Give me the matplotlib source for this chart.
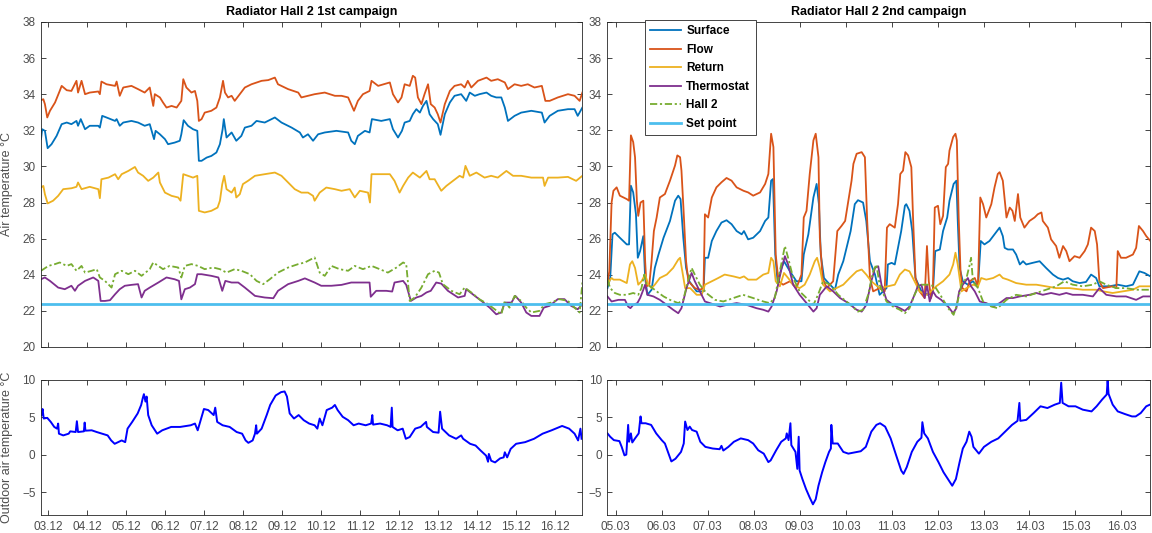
import matplotlib
matplotlib.use("Agg")
import matplotlib.pyplot as plt
import numpy as np

plt.rcParams['font.family'] = ['Liberation Sans', 'DejaVu Sans']

# ---- data: (day offset from first tick, value) ----
c1_days = ["03.12", "04.12", "05.12", "06.12", "07.12", "08.12", "09.12",
           "10.12", "11.12", "12.12", "13.12", "14.12", "15.12", "16.12"]
c2_days = ["05.03", "06.03", "07.03", "08.03", "09.03", "10.03", "11.03",
           "12.03", "13.03", "14.03", "15.03", "16.03"]

setpoint = 22.4

c1_surface = [(-0.19, 31.51), (-0.16, 32.06), (-0.09, 31.97), (-0.02, 31.01), (0.08, 31.23), (0.21, 31.69),
              (0.34, 32.34), (0.47, 32.43), (0.59, 32.34), (0.72, 32.52), (0.76, 32.25), (0.83, 32.62),
              (0.94, 32.06), (1.06, 32.25), (1.28, 32.25), (1.32, 32.15), (1.38, 32.80), (1.49, 32.71),
              (1.71, 32.52), (1.75, 32.62), (1.83, 32.25), (1.92, 32.43), (2.13, 32.52), (2.30, 32.43),
              (2.47, 32.25), (2.60, 32.34), (2.71, 31.51), (2.75, 31.97), (2.86, 31.78), (2.99, 31.51),
              (3.07, 31.23), (3.24, 31.32), (3.37, 31.42), (3.41, 31.78), (3.47, 32.56), (3.58, 32.25),
              (3.71, 32.06), (3.82, 31.97), (3.86, 30.31), (3.93, 30.31), (4.06, 30.49), (4.18, 30.58),
              (4.31, 30.77), (4.40, 31.23), (4.47, 32.06), (4.50, 32.62), (4.57, 31.60), (4.70, 31.88),
              (4.82, 31.42), (4.95, 31.69), (5.04, 32.15), (5.21, 32.25), (5.34, 32.52), (5.55, 32.43),
              (5.81, 32.71), (5.98, 32.43), (6.24, 32.15), (6.45, 31.88), (6.53, 31.60), (6.66, 31.78),
              (6.79, 31.42), (6.92, 31.78), (7.09, 31.88), (7.39, 31.97), (7.69, 31.88), (7.77, 31.42),
              (7.86, 31.23), (7.94, 31.69), (8.12, 31.97), (8.24, 31.88), (8.30, 32.62), (8.54, 32.52),
              (8.76, 32.62), (8.84, 32.06), (8.97, 31.60), (9.07, 31.97), (9.14, 32.43), (9.27, 32.52),
              (9.35, 32.89), (9.44, 33.17), (9.53, 32.98), (9.61, 33.35), (9.70, 33.63), (9.78, 32.89),
              (9.87, 32.62), (9.99, 32.34), (10.06, 31.75), (10.17, 32.89), (10.30, 33.54), (10.42, 33.91),
              (10.59, 34.00), (10.72, 33.63), (10.81, 34.09), (10.94, 33.91), (11.06, 34.00), (11.24, 34.09),
              (11.36, 33.91), (11.49, 33.82), (11.62, 33.82), (11.71, 33.26), (11.79, 32.52), (11.96, 32.80),
              (12.13, 32.98), (12.39, 33.08), (12.66, 32.98), (12.73, 32.43), (12.86, 32.80), (13.07, 33.08),
              (13.33, 33.17), (13.50, 33.17), (13.58, 32.80), (13.70, 33.26)]

c1_flow = [(-0.19, 33.67), (-0.13, 33.72), (-0.09, 33.45), (-0.03, 32.71), (0.04, 33.08), (0.17, 33.54),
           (0.29, 34.18), (0.34, 34.46), (0.47, 34.22), (0.59, 34.18), (0.72, 34.74), (0.76, 34.09),
           (0.85, 34.74), (0.94, 34.00), (1.06, 34.09), (1.28, 34.15), (1.32, 34.00), (1.36, 34.70),
           (1.49, 34.55), (1.71, 34.46), (1.75, 34.70), (1.83, 33.91), (1.92, 34.37), (2.13, 34.46),
           (2.30, 34.28), (2.47, 34.09), (2.60, 34.37), (2.69, 33.35), (2.73, 34.00), (2.86, 33.82),
           (2.94, 33.54), (3.03, 33.26), (3.16, 33.35), (3.29, 33.26), (3.41, 33.63), (3.46, 34.83),
           (3.54, 34.37), (3.67, 34.09), (3.76, 34.18), (3.82, 33.63), (3.86, 32.52), (3.93, 32.62),
           (4.01, 32.98), (4.18, 33.08), (4.31, 33.26), (4.40, 33.82), (4.48, 34.74), (4.53, 34.09),
           (4.61, 33.82), (4.70, 33.91), (4.78, 33.63), (4.91, 34.00), (5.04, 34.37), (5.21, 34.55),
           (5.47, 34.74), (5.64, 34.78), (5.81, 34.92), (5.89, 34.55), (6.15, 34.28), (6.41, 34.09),
           (6.49, 33.82), (6.66, 33.91), (6.83, 34.00), (7.09, 34.09), (7.35, 33.91), (7.52, 33.91),
           (7.69, 33.82), (7.84, 33.08), (7.94, 33.63), (8.07, 34.00), (8.24, 34.18), (8.29, 34.74),
           (8.46, 34.46), (8.76, 34.65), (8.84, 34.00), (8.97, 33.54), (9.06, 33.82), (9.14, 34.55),
           (9.27, 34.46), (9.35, 35.02), (9.41, 34.92), (9.48, 33.82), (9.57, 33.45), (9.65, 34.00),
           (9.74, 34.55), (9.81, 33.45), (9.91, 33.26), (9.99, 32.89), (10.06, 32.43), (10.17, 33.45),
           (10.30, 34.18), (10.42, 34.46), (10.59, 34.55), (10.68, 34.37), (10.76, 34.74), (10.85, 34.37),
           (11.02, 34.74), (11.24, 34.92), (11.36, 34.74), (11.53, 34.83), (11.71, 34.65), (11.79, 34.28),
           (11.96, 34.55), (12.13, 34.46), (12.30, 34.55), (12.47, 34.37), (12.66, 34.46), (12.75, 33.63),
           (12.86, 33.63), (13.07, 33.82), (13.33, 34.00), (13.50, 33.91), (13.63, 33.63), (13.70, 34.09)]

c1_return = [(-0.19, 28.83), (-0.13, 28.92), (-0.09, 28.46), (-0.02, 27.95), (0.12, 28.10), (0.25, 28.37),
             (0.38, 28.74), (0.59, 28.79), (0.72, 28.87), (0.76, 29.11), (0.85, 28.74), (1.06, 28.87),
             (1.28, 28.74), (1.32, 28.24), (1.36, 29.29), (1.54, 29.38), (1.71, 29.57), (1.79, 29.29),
             (1.88, 29.57), (2.05, 29.75), (2.22, 29.97), (2.30, 29.66), (2.43, 29.48), (2.56, 29.20),
             (2.69, 29.38), (2.82, 29.66), (2.86, 29.11), (2.99, 28.55), (3.16, 28.37), (3.33, 28.28),
             (3.39, 28.10), (3.46, 29.57), (3.58, 29.48), (3.71, 29.38), (3.82, 29.48), (3.86, 27.54),
             (4.01, 27.45), (4.18, 27.54), (4.34, 27.72), (4.40, 28.10), (4.46, 29.02), (4.51, 29.48),
             (4.57, 28.74), (4.70, 28.55), (4.78, 28.83), (4.82, 28.28), (4.91, 28.46), (4.99, 29.02),
             (5.12, 29.20), (5.30, 29.48), (5.55, 29.57), (5.81, 29.66), (5.98, 29.48), (6.15, 29.11),
             (6.32, 28.74), (6.49, 28.55), (6.66, 28.55), (6.79, 28.37), (6.83, 28.10), (6.96, 28.55),
             (7.13, 28.83), (7.35, 28.74), (7.52, 28.65), (7.73, 28.74), (7.86, 28.28), (7.99, 28.65),
             (8.20, 28.55), (8.25, 28.00), (8.29, 29.57), (8.54, 29.57), (8.76, 29.57), (8.88, 29.20),
             (9.01, 28.55), (9.10, 28.92), (9.23, 29.38), (9.35, 29.66), (9.53, 29.38), (9.70, 29.75),
             (9.78, 29.29), (9.91, 29.29), (10.08, 28.65), (10.21, 28.92), (10.38, 29.20), (10.55, 29.48),
             (10.64, 29.38), (10.70, 30.03), (10.81, 29.48), (10.98, 29.66), (11.19, 29.38), (11.36, 29.48),
             (11.53, 29.38), (11.75, 29.75), (11.92, 29.48), (12.13, 29.48), (12.39, 29.38), (12.69, 29.38),
             (12.73, 28.92), (12.82, 29.38), (13.07, 29.38), (13.33, 29.42), (13.54, 29.20), (13.70, 29.48)]

c1_thermostat = [(-0.19, 23.75), (-0.09, 23.85), (0.04, 23.66), (0.25, 23.29), (0.42, 23.20), (0.59, 23.39),
                 (0.68, 23.11), (0.76, 23.39), (0.94, 23.66), (1.15, 23.85), (1.28, 23.66), (1.34, 22.55),
                 (1.45, 22.55), (1.58, 22.59), (1.71, 22.92), (1.83, 23.20), (1.96, 23.39), (2.13, 23.44),
                 (2.30, 23.48), (2.39, 22.74), (2.47, 23.11), (2.60, 23.29), (2.82, 23.57), (3.03, 23.85),
                 (3.24, 23.75), (3.35, 23.66), (3.41, 22.64), (3.50, 23.20), (3.63, 23.29), (3.76, 23.48),
                 (3.82, 24.03), (3.93, 24.03), (4.18, 23.94), (4.36, 23.85), (4.46, 23.11), (4.54, 23.66),
                 (4.70, 23.57), (4.87, 23.57), (5.04, 23.29), (5.30, 22.83), (5.55, 22.74), (5.77, 22.70),
                 (5.89, 23.11), (6.15, 23.48), (6.41, 23.66), (6.58, 23.80), (6.83, 23.57), (7.00, 23.39),
                 (7.26, 23.39), (7.52, 23.44), (7.77, 23.57), (7.99, 23.57), (8.24, 23.57), (8.27, 22.78),
                 (8.41, 23.11), (8.67, 23.11), (8.82, 23.07), (8.88, 23.57), (9.10, 23.66), (9.18, 23.44),
                 (9.30, 22.55), (9.44, 22.74), (9.57, 22.83), (9.70, 23.02), (9.81, 23.11), (9.95, 23.57),
                 (10.08, 23.51), (10.25, 23.11), (10.51, 22.74), (10.68, 22.83), (10.72, 23.20), (10.94, 22.83),
                 (11.11, 22.55), (11.32, 22.18), (11.49, 21.81), (11.62, 21.91), (11.71, 22.46), (11.88, 22.46),
                 (11.98, 22.83), (12.13, 22.46), (12.26, 21.91), (12.39, 21.72), (12.60, 21.72), (12.71, 22.18),
                 (12.86, 22.28), (13.07, 22.65), (13.24, 22.65), (13.41, 22.28), (13.58, 22.09), (13.70, 22.37)]

c1_hall2 = [(-0.19, 24.22), (0.00, 24.49), (0.17, 24.59), (0.29, 24.68), (0.47, 24.49), (0.59, 24.59),
            (0.72, 24.22), (0.85, 24.49), (0.94, 24.12), (1.11, 24.22), (1.24, 24.31), (1.32, 23.85),
            (1.45, 23.66), (1.62, 23.29), (1.71, 24.03), (1.88, 24.22), (2.05, 24.03), (2.22, 24.22),
            (2.39, 23.94), (2.60, 24.31), (2.69, 24.68), (2.82, 24.49), (2.94, 24.31), (3.11, 24.49),
            (3.33, 24.40), (3.41, 23.85), (3.50, 24.49), (3.67, 24.59), (3.84, 24.49), (4.01, 24.31),
            (4.23, 24.40), (4.40, 24.31), (4.57, 24.12), (4.78, 24.31), (4.95, 24.22), (5.17, 24.03),
            (5.34, 23.66), (5.51, 23.48), (5.68, 23.75), (5.89, 24.12), (6.15, 24.40), (6.41, 24.59),
            (6.58, 24.68), (6.83, 24.96), (6.96, 24.12), (7.09, 23.94), (7.26, 24.49), (7.47, 24.31),
            (7.69, 24.22), (7.86, 24.49), (8.07, 24.31), (8.29, 24.49), (8.50, 24.31), (8.71, 24.12),
            (8.93, 24.40), (9.10, 24.68), (9.18, 24.59), (9.27, 22.55), (9.40, 22.74), (9.57, 23.29),
            (9.74, 24.03), (9.91, 24.22), (10.02, 24.12), (10.12, 23.48), (10.34, 23.11), (10.55, 22.92),
            (10.68, 23.29), (10.85, 23.02), (11.06, 22.64), (11.28, 22.37), (11.45, 22.09), (11.62, 21.81),
            (11.71, 22.55), (11.83, 22.18), (11.96, 22.83), (12.13, 22.55), (12.26, 22.18), (12.39, 21.91),
            (12.60, 22.00), (12.73, 22.37), (12.90, 22.46), (13.11, 22.65), (13.33, 22.55), (13.50, 22.18),
            (13.63, 21.91), (13.70, 23.57)]

c2_surface = [(-0.18, 23.26), (-0.12, 23.82), (-0.07, 26.24), (-0.02, 26.33), (0.09, 26.05), (0.24, 25.68),
              (0.29, 25.68), (0.33, 28.93), (0.38, 28.56), (0.44, 27.35), (0.48, 24.94), (0.53, 25.31),
              (0.60, 26.14), (0.64, 23.82), (0.69, 22.89), (0.78, 23.17), (0.85, 24.38), (0.93, 25.12),
              (1.04, 26.05), (1.18, 26.98), (1.29, 28.10), (1.36, 28.38), (1.41, 28.19), (1.47, 26.05),
              (1.53, 24.38), (1.60, 23.64), (1.76, 23.08), (1.91, 23.08), (1.94, 24.94), (2.01, 24.94),
              (2.09, 25.87), (2.19, 26.42), (2.30, 26.89), (2.41, 27.02), (2.52, 26.80), (2.63, 26.42),
              (2.74, 26.24), (2.79, 26.42), (2.88, 25.96), (2.99, 26.05), (3.14, 26.42), (3.25, 26.98),
              (3.32, 27.17), (3.38, 29.21), (3.42, 29.30), (3.47, 25.12), (3.52, 23.64), (3.61, 24.38),
              (3.66, 24.75), (3.79, 24.19), (3.93, 23.64), (4.04, 23.64), (4.09, 25.12), (4.19, 26.24),
              (4.30, 28.28), (4.37, 29.03), (4.42, 27.91), (4.46, 25.12), (4.53, 23.82), (4.66, 23.45),
              (4.77, 23.17), (4.84, 24.01), (4.95, 24.75), (5.02, 25.49), (5.11, 26.42), (5.20, 27.91),
              (5.27, 28.13), (5.38, 28.00), (5.45, 26.98), (5.53, 24.75), (5.64, 24.01), (5.74, 22.89),
              (5.89, 23.26), (5.92, 24.57), (6.00, 24.66), (6.07, 24.57), (6.14, 25.49), (6.21, 26.42),
              (6.29, 27.82), (6.32, 27.91), (6.39, 27.54), (6.45, 26.42), (6.52, 23.82), (6.65, 23.08),
              (6.79, 22.89), (6.90, 23.08), (6.95, 25.31), (7.05, 25.40), (7.12, 26.42), (7.21, 27.17),
              (7.26, 28.10), (7.35, 29.03), (7.41, 29.21), (7.44, 26.98), (7.48, 24.38), (7.55, 23.64),
              (7.66, 23.45), (7.77, 23.64), (7.88, 23.36), (7.94, 25.87), (8.02, 25.68), (8.13, 25.87),
              (8.24, 26.24), (8.35, 26.61), (8.42, 26.14), (8.46, 25.49), (8.53, 25.40), (8.64, 25.40),
              (8.71, 25.12), (8.79, 24.57), (8.86, 24.75), (8.93, 24.57), (9.07, 24.66), (9.22, 24.75),
              (9.36, 24.38), (9.51, 24.01), (9.62, 23.82), (9.73, 23.73), (9.84, 23.82), (9.94, 23.64),
              (10.09, 23.54), (10.23, 23.60), (10.34, 24.01), (10.45, 23.82), (10.52, 23.36), (10.74, 23.36),
              (10.92, 23.45), (11.10, 23.36), (11.25, 23.45), (11.32, 23.82), (11.39, 24.19), (11.50, 24.10),
              (11.63, 23.91)]

c2_flow = [(-0.18, 23.54), (-0.14, 24.19), (-0.09, 28.00), (-0.05, 28.65), (0.02, 28.84), (0.09, 28.38),
           (0.24, 28.19), (0.29, 28.10), (0.33, 31.72), (0.38, 31.35), (0.42, 30.51), (0.46, 28.10),
           (0.49, 27.26), (0.54, 28.00), (0.60, 28.10), (0.64, 24.75), (0.67, 23.36), (0.73, 23.45),
           (0.78, 24.75), (0.83, 26.42), (0.89, 27.17), (0.96, 28.28), (1.07, 28.47), (1.18, 29.21),
           (1.29, 30.05), (1.34, 30.61), (1.40, 30.51), (1.43, 29.77), (1.48, 27.35), (1.53, 24.75),
           (1.58, 23.64), (1.72, 23.26), (1.83, 23.17), (1.91, 23.26), (1.94, 27.35), (2.01, 27.17),
           (2.09, 28.28), (2.19, 28.84), (2.30, 29.12), (2.41, 29.36), (2.52, 29.21), (2.63, 28.84),
           (2.78, 28.65), (2.88, 28.56), (2.99, 28.38), (3.14, 28.56), (3.25, 29.03), (3.32, 29.58),
           (3.38, 31.81), (3.43, 31.07), (3.48, 25.12), (3.54, 23.64), (3.64, 23.45), (3.79, 23.64),
           (3.93, 23.26), (4.04, 24.01), (4.09, 27.17), (4.15, 27.54), (4.22, 29.58), (4.30, 31.44),
           (4.35, 31.81), (4.41, 30.51), (4.44, 26.05), (4.50, 23.82), (4.59, 23.26), (4.73, 23.64),
           (4.82, 26.42), (4.91, 26.70), (4.99, 26.98), (5.06, 28.10), (5.13, 29.21), (5.17, 30.14),
           (5.24, 30.70), (5.35, 30.79), (5.42, 30.51), (5.47, 26.98), (5.53, 23.82), (5.60, 23.08),
           (5.74, 23.26), (5.85, 23.08), (5.90, 26.61), (5.96, 26.80), (6.07, 26.61), (6.14, 27.91),
           (6.19, 29.58), (6.25, 29.77), (6.30, 30.79), (6.36, 30.61), (6.43, 29.96), (6.47, 26.98),
           (6.52, 23.82), (6.61, 23.08), (6.72, 22.71), (6.77, 25.59), (6.81, 23.64), (6.86, 22.71),
           (6.90, 23.26), (6.94, 27.72), (7.01, 27.82), (7.06, 26.80), (7.12, 27.26), (7.18, 29.96),
           (7.23, 30.14), (7.26, 30.88), (7.34, 31.63), (7.39, 31.81), (7.42, 31.44), (7.46, 27.17),
           (7.50, 24.19), (7.54, 23.26), (7.63, 23.08), (7.70, 23.64), (7.81, 23.82), (7.88, 23.36),
           (7.93, 28.28), (7.99, 27.91), (8.06, 27.17), (8.17, 27.91), (8.24, 28.84), (8.31, 29.58),
           (8.35, 29.68), (8.42, 29.21), (8.50, 27.17), (8.57, 27.72), (8.63, 27.54), (8.68, 26.98),
           (8.75, 28.47), (8.80, 27.17), (8.89, 26.61), (9.00, 26.98), (9.11, 27.17), (9.18, 27.35),
           (9.26, 27.45), (9.29, 26.98), (9.40, 26.61), (9.47, 25.96), (9.58, 25.59), (9.65, 24.94),
           (9.73, 25.59), (9.80, 25.31), (9.87, 24.75), (9.98, 25.03), (10.09, 24.94), (10.20, 25.31),
           (10.27, 25.68), (10.34, 26.61), (10.42, 26.42), (10.47, 25.68), (10.52, 23.64), (10.60, 23.26),
           (10.81, 23.36), (10.89, 23.26), (10.92, 25.31), (10.99, 24.94), (11.10, 24.94), (11.25, 25.12),
           (11.32, 25.49), (11.38, 26.70), (11.47, 26.42), (11.54, 26.14), (11.63, 25.87)]

c2_return = [(-0.18, 23.45), (-0.12, 23.73), (-0.09, 23.82), (-0.05, 23.73), (0.09, 23.73), (0.24, 23.54),
             (0.31, 24.57), (0.36, 24.75), (0.42, 24.38), (0.49, 23.45), (0.56, 23.64), (0.64, 24.01),
             (0.71, 23.45), (0.78, 23.26), (0.85, 23.45), (0.96, 23.82), (1.11, 24.01), (1.25, 24.38),
             (1.36, 24.84), (1.40, 24.94), (1.43, 24.47), (1.51, 23.26), (1.62, 23.26), (1.76, 22.89),
             (1.87, 22.89), (1.94, 23.45), (2.09, 23.64), (2.23, 23.82), (2.37, 24.01), (2.56, 23.91),
             (2.70, 23.82), (2.79, 23.91), (2.88, 23.73), (3.06, 23.73), (3.21, 24.01), (3.32, 24.10),
             (3.38, 24.94), (3.43, 24.75), (3.48, 23.64), (3.57, 23.36), (3.66, 24.10), (3.75, 23.82),
             (3.86, 23.45), (4.00, 23.26), (4.11, 23.45), (4.22, 24.01), (4.33, 24.75), (4.38, 24.94),
             (4.44, 24.38), (4.51, 23.45), (4.66, 23.08), (4.80, 23.26), (4.95, 23.45), (5.09, 23.82),
             (5.24, 24.19), (5.35, 24.29), (5.45, 24.01), (5.56, 23.64), (5.74, 23.26), (5.92, 23.36),
             (6.07, 23.45), (6.18, 24.01), (6.29, 24.29), (6.39, 24.19), (6.50, 23.64), (6.61, 23.08),
             (6.76, 22.89), (6.86, 23.08), (6.97, 23.36), (7.12, 23.64), (7.26, 24.01), (7.34, 24.57),
             (7.39, 25.22), (7.44, 24.57), (7.52, 23.08), (7.63, 23.26), (7.77, 23.45), (7.88, 23.36),
             (7.95, 23.82), (8.06, 23.73), (8.21, 23.82), (8.35, 24.01), (8.42, 23.82), (8.53, 23.73),
             (8.71, 23.54), (8.93, 23.45), (9.15, 23.45), (9.36, 23.36), (9.58, 23.26), (9.87, 23.26),
             (10.16, 23.17), (10.45, 23.17), (10.60, 23.08), (10.81, 22.99), (11.03, 23.08), (11.25, 23.17),
             (11.39, 23.36), (11.63, 23.36)]

c2_thermostat = [(-0.18, 22.80), (-0.09, 22.52), (0.06, 22.61), (0.20, 22.61), (0.27, 22.24), (0.32, 22.15),
                 (0.38, 22.33), (0.47, 22.43), (0.53, 22.71), (0.60, 23.17), (0.64, 23.45), (0.69, 22.89),
                 (0.82, 22.80), (0.96, 22.61), (1.11, 22.33), (1.25, 22.06), (1.36, 21.87), (1.43, 22.15),
                 (1.54, 23.26), (1.65, 24.10), (1.72, 23.64), (1.83, 23.08), (1.94, 22.52), (2.12, 22.37),
                 (2.27, 22.24), (2.41, 22.33), (2.63, 22.43), (2.85, 22.33), (3.06, 22.15), (3.21, 22.06),
                 (3.32, 21.96), (3.39, 22.24), (3.50, 23.08), (3.61, 24.38), (3.68, 25.03), (3.75, 24.57),
                 (3.86, 23.45), (4.00, 22.89), (4.15, 22.43), (4.30, 21.96), (4.37, 22.15), (4.44, 22.89),
                 (4.59, 23.36), (4.73, 23.08), (4.88, 22.71), (5.06, 22.43), (5.24, 22.06), (5.35, 21.96),
                 (5.45, 22.33), (5.56, 23.64), (5.64, 24.38), (5.71, 24.47), (5.78, 23.45), (5.89, 22.61),
                 (6.03, 22.33), (6.18, 22.15), (6.29, 22.00), (6.39, 22.24), (6.50, 22.89), (6.57, 23.36),
                 (6.65, 23.45), (6.72, 22.71), (6.77, 23.45), (6.83, 22.52), (6.90, 23.08), (6.97, 22.80),
                 (7.08, 22.61), (7.23, 22.24), (7.34, 21.87), (7.41, 22.15), (7.47, 23.08), (7.55, 23.45),
                 (7.66, 23.82), (7.73, 23.36), (7.81, 23.08), (7.92, 22.52), (8.06, 22.43), (8.21, 22.24),
                 (8.35, 22.43), (8.50, 22.71), (8.64, 22.71), (8.79, 22.80), (9.00, 22.89), (9.15, 22.99),
                 (9.29, 22.89), (9.47, 22.99), (9.65, 22.89), (9.80, 22.99), (9.94, 22.89), (10.16, 22.89),
                 (10.38, 22.80), (10.52, 23.26), (10.67, 22.89), (10.89, 22.80), (11.10, 22.80), (11.32, 22.61),
                 (11.47, 22.80), (11.63, 22.80)]

c2_hall2 = [(-0.18, 23.73), (-0.12, 23.26), (-0.02, 22.99), (0.09, 22.89), (0.24, 22.89), (0.38, 22.99),
            (0.49, 22.89), (0.56, 23.26), (0.62, 24.01), (0.67, 23.45), (0.75, 23.36), (0.89, 23.08),
            (1.04, 22.80), (1.18, 22.61), (1.36, 22.43), (1.47, 22.61), (1.55, 23.45), (1.65, 24.38),
            (1.72, 24.01), (1.83, 23.45), (1.97, 22.99), (2.16, 22.61), (2.34, 22.52), (2.56, 22.71),
            (2.77, 22.89), (2.99, 22.71), (3.21, 22.52), (3.35, 22.43), (3.46, 22.71), (3.57, 24.19),
            (3.68, 25.59), (3.75, 24.94), (3.86, 23.82), (4.00, 23.08), (4.15, 22.71), (4.30, 22.33),
            (4.40, 22.89), (4.51, 23.64), (4.66, 23.45), (4.84, 22.89), (5.06, 22.43), (5.27, 21.96),
            (5.38, 22.06), (5.49, 22.89), (5.60, 24.19), (5.67, 24.57), (5.74, 23.45), (5.89, 22.52),
            (6.03, 22.24), (6.18, 22.06), (6.29, 21.87), (6.39, 22.15), (6.50, 22.89), (6.61, 23.45),
            (6.79, 23.45), (6.94, 23.36), (7.08, 22.80), (7.23, 22.15), (7.35, 21.78), (7.42, 22.33),
            (7.52, 23.45), (7.63, 23.82), (7.70, 24.57), (7.73, 24.94), (7.77, 23.64), (7.88, 23.26),
            (7.99, 22.52), (8.17, 22.24), (8.31, 22.15), (8.50, 22.61), (8.71, 22.89), (8.93, 22.80),
            (9.15, 22.99), (9.36, 23.17), (9.58, 23.36), (9.76, 23.64), (9.94, 23.45), (10.16, 23.36),
            (10.38, 23.45), (10.52, 23.64), (10.67, 23.45), (10.89, 23.26), (11.10, 23.26), (11.32, 23.17),
            (11.63, 23.17)]

c1_outdoor = [(-0.18, 5.32), (-0.15, 6.13), (-0.12, 4.86), (-0.03, 4.95), (0.06, 4.41), (0.15, 3.74),
              (0.22, 3.51), (0.25, 4.19), (0.27, 2.84), (0.38, 2.61), (0.52, 2.84), (0.56, 3.15),
              (0.70, 3.06), (0.73, 4.50), (0.76, 3.06), (0.91, 3.15), (0.93, 4.32), (0.95, 3.24),
              (1.11, 3.29), (1.24, 3.06), (1.38, 2.84), (1.52, 2.61), (1.61, 1.94), (1.70, 1.49),
              (1.79, 1.71), (1.88, 1.94), (1.97, 1.71), (2.03, 3.51), (2.15, 4.41), (2.29, 5.54),
              (2.38, 6.67), (2.42, 7.57), (2.45, 8.11), (2.49, 7.12), (2.52, 7.79), (2.56, 5.32),
              (2.65, 3.96), (2.79, 2.84), (2.92, 3.29), (3.15, 3.74), (3.38, 3.74), (3.65, 3.96),
              (3.76, 4.19), (3.83, 3.29), (3.92, 4.86), (3.99, 6.13), (4.10, 5.99), (4.24, 5.32),
              (4.28, 6.31), (4.33, 4.41), (4.47, 3.96), (4.65, 3.74), (4.83, 3.06), (4.97, 2.84),
              (5.06, 1.94), (5.13, 1.62), (5.24, 1.94), (5.30, 2.84), (5.33, 3.96), (5.35, 2.84),
              (5.47, 3.51), (5.60, 5.32), (5.69, 6.67), (5.83, 7.93), (5.97, 8.38), (6.06, 8.47),
              (6.12, 7.79), (6.19, 5.54), (6.30, 4.86), (6.42, 5.32), (6.55, 4.64), (6.69, 4.19),
              (6.83, 3.96), (6.90, 3.51), (6.96, 4.86), (7.03, 3.96), (7.14, 5.99), (7.28, 6.31),
              (7.35, 6.67), (7.42, 5.99), (7.55, 5.09), (7.69, 4.64), (7.83, 3.96), (7.96, 4.19),
              (8.14, 3.96), (8.28, 4.19), (8.31, 5.32), (8.33, 4.05), (8.51, 4.19), (8.69, 3.96),
              (8.78, 3.74), (8.81, 6.31), (8.83, 3.74), (8.96, 3.29), (9.09, 3.51), (9.17, 2.16),
              (9.27, 2.39), (9.41, 3.51), (9.55, 3.74), (9.69, 4.41), (9.71, 3.74), (9.87, 3.06),
              (10.01, 2.97), (10.05, 5.77), (10.10, 3.51), (10.28, 2.61), (10.46, 2.16), (10.59, 2.61),
              (10.64, 2.16), (10.82, 1.49), (10.96, 1.26), (11.09, 0.59), (11.23, -0.09), (11.28, -0.90),
              (11.30, 0.14), (11.36, -0.77), (11.46, -0.99), (11.59, -0.45), (11.68, -0.32), (11.71, 0.36),
              (11.77, -0.32), (11.86, 0.81), (12.00, 1.49), (12.23, 1.71), (12.46, 2.16), (12.68, 2.84),
              (12.91, 3.29), (13.18, 3.87), (13.36, 3.51), (13.50, 2.84), (13.59, 1.94), (13.65, 3.51),
              (13.68, 2.16)]

c2_outdoor = [(-0.18, 2.88), (-0.12, 2.43), (-0.04, 1.98), (0.08, 1.85), (0.13, 1.08), (0.19, -0.05),
              (0.23, 0.05), (0.27, 4.01), (0.29, 1.76), (0.33, 2.88), (0.36, 1.67), (0.42, 2.21),
              (0.50, 2.88), (0.54, 5.14), (0.56, 4.23), (0.65, 4.23), (0.77, 4.01), (0.88, 2.88),
              (1.00, 1.98), (1.07, 1.53), (1.15, 0.18), (1.21, -0.86), (1.30, -0.50), (1.42, 0.41),
              (1.48, 1.53), (1.51, 4.46), (1.56, 3.33), (1.61, 3.78), (1.66, 3.33), (1.76, 3.11),
              (1.84, 1.76), (1.95, 1.08), (2.11, 0.86), (2.26, 0.77), (2.30, 1.22), (2.34, 0.59),
              (2.45, 1.08), (2.57, 1.76), (2.72, 2.21), (2.88, 1.98), (2.99, 1.53), (3.10, 0.63),
              (3.22, 0.18), (3.32, -0.95), (3.37, -0.72), (3.49, 0.63), (3.60, 1.76), (3.70, 2.21),
              (3.72, 2.88), (3.76, 1.98), (3.80, 4.23), (3.82, 1.31), (3.91, 0.41), (3.95, -1.85),
              (3.98, 2.43), (4.00, -2.07), (4.06, -3.20), (4.14, -4.55), (4.22, -5.68), (4.29, -6.58),
              (4.35, -5.90), (4.41, -4.10), (4.49, -2.30), (4.56, -0.95), (4.64, 0.41), (4.68, 0.86),
              (4.69, 4.01), (4.72, 1.53), (4.83, 1.53), (4.95, 0.41), (5.06, 0.18), (5.18, 0.32),
              (5.33, 0.50), (5.44, 1.08), (5.56, 3.11), (5.67, 4.01), (5.75, 4.23), (5.86, 3.78),
              (5.98, 2.21), (6.10, -0.05), (6.21, -2.07), (6.26, -2.52), (6.33, -1.62), (6.44, 0.41),
              (6.56, 1.76), (6.65, 2.30), (6.67, 4.37), (6.71, 2.88), (6.79, 2.21), (6.90, 0.41),
              (7.02, -0.95), (7.13, -2.30), (7.25, -3.42), (7.32, -4.10), (7.40, -3.20), (7.48, -0.95),
              (7.55, 0.86), (7.63, 1.76), (7.69, 3.11), (7.74, 2.43), (7.78, 1.08), (7.90, 0.18),
              (8.01, 1.08), (8.17, 1.76), (8.32, 2.21), (8.47, 3.11), (8.62, 4.01), (8.74, 4.55),
              (8.78, 6.94), (8.80, 4.55), (8.93, 4.68), (9.09, 5.59), (9.24, 6.49), (9.39, 6.26),
              (9.55, 6.71), (9.66, 6.94), (9.69, 9.64), (9.72, 6.94), (9.85, 6.49), (10.00, 6.49),
              (10.16, 6.04), (10.35, 5.81), (10.46, 6.49), (10.58, 7.39), (10.68, 8.06), (10.70, 9.95),
              (10.72, 8.15), (10.81, 6.71), (10.92, 5.81), (11.08, 5.45), (11.23, 5.14), (11.31, 5.14),
              (11.42, 5.59), (11.54, 6.49), (11.62, 6.71)]

c1_xlim = (-0.19, 13.69)
c2_xlim = (-0.18, 11.62)

names = ["Surface", "Flow", "Return", "Thermostat", "Hall 2"]
colors = ["#0072BD", "#D95319", "#EDB120", "#7E2F8E", "#77AC30"]
axcol = "#262626"
tickcol = "#4d4d4d"


def style(ax, xlim, ylim, labels, show_labels):
    ax.set_xlim(*xlim)
    ax.set_ylim(*ylim)
    ax.set_xticks(range(len(labels)))
    ax.set_xticklabels(labels if show_labels else [])
    ax.tick_params(direction="in", top=True, right=True, length=3.5, width=0.6,
                   colors=axcol, labelcolor=tickcol, labelsize=8.5, pad=4)
    for s in ax.spines.values():
        s.set_color(axcol)
        s.set_linewidth(0.6)


fig = plt.figure(figsize=(11.52, 5.33), dpi=100)
ax1 = fig.add_axes([0.0356, 0.349, 0.4696, 0.6098])
ax2 = fig.add_axes([0.5273, 0.349, 0.4709, 0.6098])
ax3 = fig.add_axes([0.0356, 0.0338, 0.4696, 0.2533])
ax4 = fig.add_axes([0.5273, 0.0338, 0.4709, 0.2533])

for ax, series, xlim, labels, title in [
        (ax1, [c1_surface, c1_flow, c1_return, c1_thermostat, c1_hall2], c1_xlim, c1_days,
         "Radiator Hall 2 1st campaign"),
        (ax2, [c2_surface, c2_flow, c2_return, c2_thermostat, c2_hall2], c2_xlim, c2_days,
         "Radiator Hall 2 2nd campaign")]:
    for name, col, data in zip(names, colors, series):
        t, v = np.array(data).T
        ls = (0, (4, 1.5, 1.2, 1.5)) if name == "Hall 2" else "-"
        ax.plot(t, v, color=col, lw=1.3, ls=ls, label=name)
    ax.plot(xlim, [setpoint, setpoint], color="#4DBEEE", lw=2.0, label="Set point")
    style(ax, xlim, (20, 38), labels, False)
    ax.set_yticks(range(20, 39, 2))
    ax.set_title(title, fontsize=9, fontweight="bold", color="black", pad=5)

for ax, data, xlim, labels in [(ax3, c1_outdoor, c1_xlim, c1_days),
                               (ax4, c2_outdoor, c2_xlim, c2_days)]:
    t, v = np.array(data).T
    ax.plot(t, v, color="#0000FF", lw=1.4)
    style(ax, xlim, (-8, 10), labels, True)
    ax.set_yticks([-5, 0, 5, 10])

ax1.set_ylabel("Air temperature °C", fontsize=9, color=tickcol)
ax1.yaxis.set_label_coords(-0.052, 0.5)
ax3.set_ylabel("Outdoor air temperature °C", fontsize=9, color=tickcol)
ax3.yaxis.set_label_coords(-0.052, 0.5)

leg = ax2.legend(loc="upper left", bbox_to_anchor=(0.069, 1.006), borderaxespad=0,
                 fontsize=8.5, frameon=True, fancybox=False, framealpha=1, edgecolor=axcol,
                 handlelength=2.6, handletextpad=0.45, labelspacing=0.55, borderpad=0.45)
leg.get_frame().set_linewidth(0.6)
for txt in leg.get_texts():
    txt.set_fontweight("bold")

fig.savefig("out.png", dpi=100)
